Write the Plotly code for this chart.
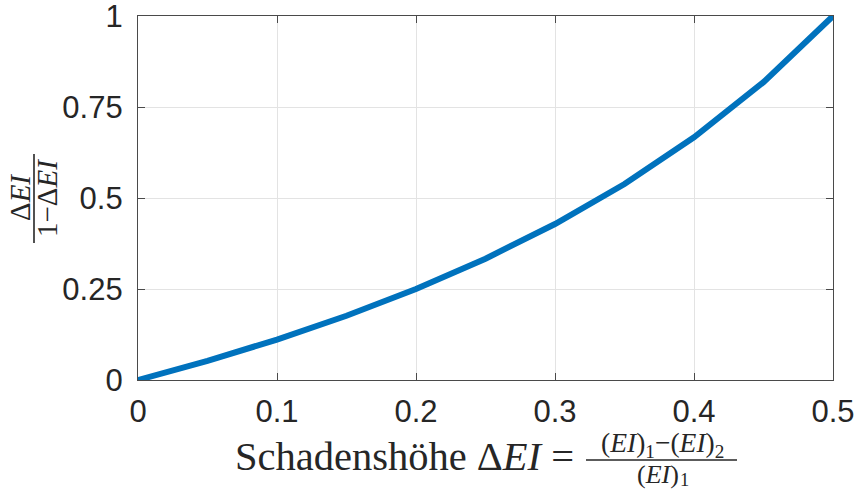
import plotly.graph_objects as go

# Damage level and the resulting ratio dEI / (1 - dEI)
damage = [0.0, 0.05, 0.10, 0.15, 0.20, 0.25, 0.30, 0.35, 0.40, 0.45, 0.50]
ratio = [0.0, 0.0526, 0.1111, 0.1765, 0.25, 0.3333, 0.4286, 0.5385, 0.6667, 0.8182, 1.0]

x_ticks = [0, 0.1, 0.2, 0.3, 0.4, 0.5]
x_ticklabels = ["0", "0.1", "0.2", "0.3", "0.4", "0.5"]
y_ticks = [0, 0.25, 0.5, 0.75, 1]
y_ticklabels = ["0", "0.25", "0.5", "0.75", "1"]

W, H = 859, 491
L, R, T, B = 138, 833, 16, 380


def px(x):
    return (x - L) / (R - L)


def py(y):
    return (B - y) / (B - T)


AX = "#4a4a4a"
TXT = "#262626"
SERIF = "Liberation Serif, Times New Roman, serif"
SANS = "Liberation Sans, Arial, Helvetica, sans-serif"

fig = go.Figure()
fig.add_trace(go.Scatter(
    x=damage, y=ratio, mode="lines",
    line=dict(color="#0072BD", width=6),
    cliponaxis=False, hoverinfo="skip", showlegend=False,
))

axis_common = dict(
    ticks="inside", ticklen=7, tickwidth=1, tickcolor=AX,
    showline=True, linecolor=AX, linewidth=1.3, mirror="allticks",
    showgrid=True, gridcolor="#e3e3e3", gridwidth=1, zeroline=False,
    tickfont=dict(family=SANS, size=31, color=TXT), automargin=False,
    ticklabeloverflow="allow",
)

fig.update_xaxes(range=[0, 0.5], tickvals=x_ticks, ticktext=x_ticklabels,
                 ticklabelstandoff=4, **axis_common)
fig.update_yaxes(range=[0, 1], tickvals=y_ticks, ticktext=y_ticklabels,
                 ticklabelstandoff=8, **axis_common)


def label(text, x, y, size, angle=0, xanchor="center"):
    return dict(text=text, x=px(x), y=py(y), xref="paper", yref="paper",
                textangle=angle, xanchor=xanchor, yanchor="middle", showarrow=False,
                borderpad=0, font=dict(family=SERIF, size=size, color=TXT))


ann = [
    # x-axis title: text part and stacked fraction
    label("Schadenshöhe Δ<i>EI</i> =", 575, 457, 40.5, xanchor="right"),
    label("(<i>EI</i>)<sub>1</sub>−(<i>EI</i>)<sub>2</sub>", 662, 444, 27.5),
    # denominator: bracket term with its index set as a separate small label
    label("(<i>EI</i>)", 636, 474.5, 26, xanchor="left"),
    label("1", 679, 480, 18.5, xanchor="left"),
    # y-axis title: rotated stacked fraction
    label("Δ<i>EI</i>", 20, 198, 29, angle=-90),
    label("1−Δ<i>EI</i>", 47, 198, 29, angle=-90),
]

shapes = [
    dict(type="line", xref="paper", yref="paper", x0=px(586), x1=px(737), y0=py(460), y1=py(460),
         line=dict(color=TXT, width=1.6)),
    dict(type="line", xref="paper", yref="paper", x0=px(34), x1=px(34), y0=py(154), y1=py(243),
         line=dict(color=TXT, width=1.6)),
]

fig.update_layout(
    width=W, height=H,
    margin=dict(l=L, r=W - R, t=T, b=H - B),
    paper_bgcolor="white", plot_bgcolor="white",
    annotations=ann, shapes=shapes,
)

fig.write_html("out.html")
